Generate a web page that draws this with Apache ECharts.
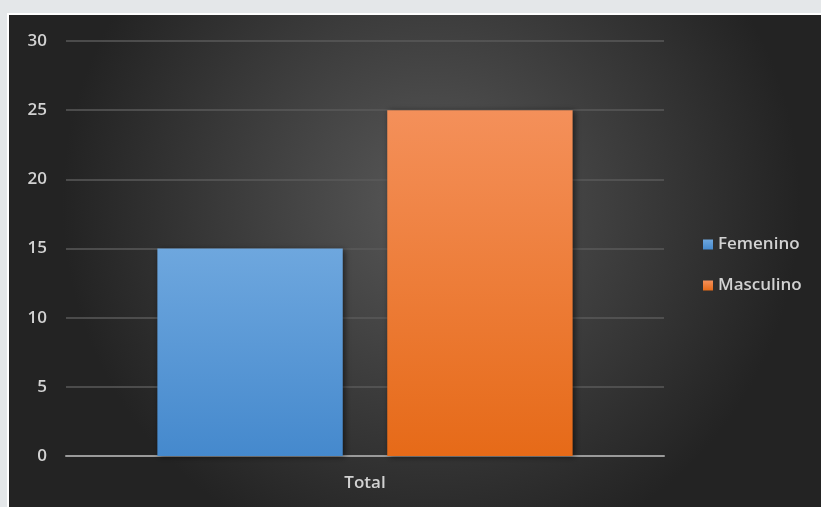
<!DOCTYPE html>
<html><head><meta charset="utf-8">
<script src="https://cdn.jsdelivr.net/npm/echarts@6/dist/echarts.min.js"></script>
<style>html,body{margin:0;padding:0;background:#e4e7e9;}#c{width:821px;height:507px;}</style>
</head><body><div id="c"></div>
<script>
const categories = ['Total'];
const femenino = [15];
const masculino = [25];
const seriesNames = ['Femenino', 'Masculino'];

const chart = echarts.init(document.getElementById('c'));
const grad = (a, b) => new echarts.graphic.LinearGradient(0, 0, 0, 1, [{offset: 0, color: a}, {offset: 1, color: b}]);
const txt = {color: '#d2d2d2', fontSize: 17, fontWeight: 600, fontFamily: 'Open Sans'};
chart.setOption({
  animation: false,
  graphic: [
    {type: 'rect', z: -10, silent: true, shape: {x: 0, y: 0, width: 821, height: 507}, style: {fill: '#e4e7e9'}},
    {type: 'rect', z: -9, silent: true, shape: {x: 7, y: 13, width: 814, height: 494}, style: {fill: '#ffffff'}},
    {type: 'rect', z: -8, silent: true, shape: {x: 9, y: 15, width: 812, height: 492},
     style: {fill: new echarts.graphic.RadialGradient(0.52, 0.38, 0.75, [{offset: 0, color: '#585858'}, {offset: 1, color: '#232323'}])}}
  ],
  grid: {left: 66, right: 157, top: 41, bottom: 51},
  legend: {
    orient: 'vertical', left: 698, top: 231, itemWidth: 10, itemHeight: 10, itemGap: 24,
    icon: 'rect', data: seriesNames,
    textStyle: Object.assign({}, txt, {fontSize: 17})
  },
  xAxis: {
    type: 'category', data: categories,
    axisLine: {lineStyle: {color: '#9a9a9a', width: 2}},
    axisTick: {show: false},
    axisLabel: Object.assign({}, txt, {margin: 19})
  },
  yAxis: {
    type: 'value', min: 0, max: 30, interval: 5,
    axisLine: {show: false}, axisTick: {show: false},
    axisLabel: Object.assign({}, txt, {margin: 19}),
    splitLine: {lineStyle: {color: '#5a5a5a', width: 1.5}}
  },
  series: [
    {name: seriesNames[0], type: 'bar', data: femenino, barWidth: '31%', barGap: '24%',
     itemStyle: {color: grad('#6ea7de', '#4589cd'), shadowBlur: 6, shadowColor: 'rgba(0,0,0,0.55)', shadowOffsetX: 2, shadowOffsetY: 1}},
    {name: seriesNames[1], type: 'bar', data: masculino, barWidth: '31%',
     itemStyle: {color: grad('#f4905a', '#e66a18'), shadowBlur: 6, shadowColor: 'rgba(0,0,0,0.55)', shadowOffsetX: 2, shadowOffsetY: 1}}
  ]
});
</script></body></html>
